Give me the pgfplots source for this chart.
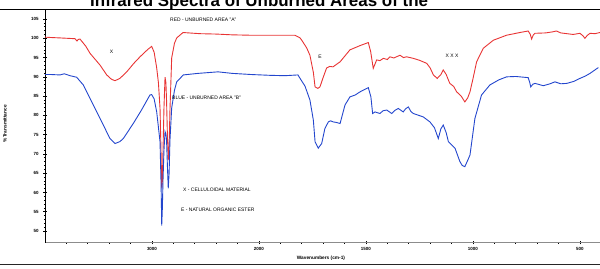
\documentclass[border=0pt]{standalone}
\usepackage{pgfplots}
\pgfplotsset{compat=1.18}
\usepackage{fontspec}
\setmainfont{Liberation Sans}
\definecolor{redline}{RGB}{232,52,52}
\definecolor{blueline}{RGB}{35,70,205}
\begin{document}
\begin{tikzpicture}
\begin{axis}[
  scale only axis, width=555.3bp, height=233.2bp,
  x coord trafo/.code={\pgfmathparse{#1>=2000?(4000-#1)*0.107:214+(2000-#1)*0.214}},
  xmin=4000, xmax=405, ymin=47, ymax=107.5,
  axis x line*=bottom, axis y line*=left,
  x axis line style={draw=black!45},
  y axis line style={draw=black, line width=0.8bp},
  xtick={3000,2000,1500,1000,500},
  xticklabels={3000,2000,1500,1000,500},
  minor xtick={3800,3600,3400,3200,2800,2600,2400,2200,1900,1800,1700,1600,1400,1300,1200,1100,900,800,700,600},
  ytick={50,55,...,105},
  minor y tick num=4,
  tick align=center,
  major tick length=3.5bp, minor tick length=2bp,
  every tick/.style={black, line width=0.7bp},
  tick label style={font=\bfseries\fontsize{4.5}{5}\selectfont},
  /pgf/number format/assume math mode=true,
  xticklabel style={yshift=1bp},
  yticklabel style={xshift=-1bp},
  xlabel={Wavenumbers (cm-1)},
  xlabel style={at={(axis description cs:0.497,0)}, anchor=center, yshift=-15.5bp, font=\bfseries\fontsize{4.8}{5}\selectfont},
  ylabel={\%Transmittance},
  ylabel style={at={(axis description cs:0,0.51)}, anchor=center, yshift=40bp, font=\bfseries\fontsize{4.8}{5}\selectfont},
  clip=false,
]
\addplot[redline, line width=0.9bp] coordinates {
(4000,100.3) (3940,100.2) (3860,100.1) (3790,100.0) (3720,99.9) (3701,99.3) (3690,99.7) (3673,99.8)
(3620,98.0) (3579,96.1) (3530,94.5) (3486,93.06) (3423,90.5) (3380,89.4) (3346,89.0) (3300,89.6)
(3236,91.3) (3170,93.5) (3112,95.2) (3040,97.1) (3003,97.9) (2980,96.4) (2956,92.3) (2940,88.5)
(2925,81.9) (2915,70) (2909,61.1) (2903,63) (2897,71) (2888,82) (2878,89.9) (2870,88.5)
(2864,84) (2856,75) (2848,68.4) (2840,72) (2832,81.4) (2816,94.9) (2790,98.7) (2769,100.1)
(2710,101.5) (2551,101.2) (2400,101.1) (2250,100.9) (2084,100.8) (2000,100.8) (1900,100.8)
(1832,100.8) (1808,100.1) (1800,99.5) (1777,97.5) (1762,95.6) (1746,91.2) (1738,87.4)
(1725,87.0) (1715,87.4) (1701,89.7) (1684,92.3) (1670,92.7) (1654,92.6) (1621,93.9)
(1575,97.0) (1528,98.1) (1489,98.9) (1478,96.5) (1466,92.2) (1450,94.4) (1435,94.2) (1419,94.8)
(1400,94.5) (1388,95.2) (1370,94.9) (1341,95.6) (1325,95.0) (1310,95.2) (1279,94.8) (1250,94.3)
(1216,93.5) (1200,92.3) (1185,90.5) (1167,89.6) (1150,90.6) (1139,91.8) (1125,90.6) (1115,89.2)
(1108,88.3) (1090,87.5) (1076,86.1) (1055,85.0) (1038,83.5) (1025,84.5) (1014,86.1) (1000,89.5)
(983,93.9) (952,97.4) (905,99.5) (843,100.8) (781,101.5) (742,101.9) (732,101.0) (726,99.8)
(718,100.9) (710,101.3) (660,101.4) (625,101.7) (610,101.9) (590,101.4) (532,101.0) (500,101.3)
(485,100.6) (477,100.0) (465,100.8) (453,101.3) (430,101.2) (407,101.5)
};
\addplot[blueline, line width=0.9bp] coordinates {
(4000,90.6) (3940,90.6) (3860,90.5) (3820,90.8) (3766,90.3) (3704,89.9) (3642,87.9) (3549,82.7)
(3455,77.5) (3393,74.0) (3346,72.7) (3300,73.2) (3268,74.0) (3175,77.9) (3100,81.3) (3019,85.3)
(3003,85.4) (2980,84.3) (2956,80.9) (2925,73.2) (2915,62) (2909,51.4) (2903,56) (2897,63.2)
(2888,71) (2878,75.8) (2870,75.2) (2864,73.6) (2856,67) (2848,61.1) (2840,65) (2832,73.6)
(2816,81.9) (2790,86.5) (2769,88.7) (2707,90.5) (2570,90.9) (2383,91.3) (2250,90.9)
(2068,90.6) (1950,90.4) (1879,90.3) (1818,90.5) (1808,89.6) (1785,87.6) (1762,84.0) (1746,78.8)
(1738,73.2) (1723,71.5) (1707,72.7) (1692,76.6) (1676,78.3) (1665,78.6) (1653,78.3) (1640,78.2)
(1621,77.9) (1598,82.7) (1575,84.8) (1550,85.3) (1528,86.1) (1489,87.2) (1477,84.8) (1469,80.5)
(1458,80.9) (1435,80.5) (1420,81.2) (1403,81.4) (1390,80.9) (1380,80.5) (1365,81.3) (1349,81.8)
(1326,80.9) (1315,81.7) (1302,82.2) (1290,81.0) (1279,80.5) (1232,79.6) (1201,78.3) (1180,76.8)
(1162,74.0) (1150,76.5) (1139,77.5) (1125,75.5) (1115,73.2) (1084,71.5) (1061,68.0) (1050,67.0)
(1038,66.7) (1025,68.3) (1014,69.7) (991,79.2) (960,85.3) (921,87.9) (880,89.2) (843,90.0)
(800,90.1) (781,90.0) (742,89.8) (735,88.6) (730,87.4) (720,88.1) (710,88.3) (690,88.0) (671,87.7)
(640,88.2) (617,88.7) (590,88.2) (562,88.3) (530,88.8) (500,89.6) (475,90.2) (453,90.9) (430,91.8)
(414,92.4)
};
\node[font=\fontsize{5}{5}\selectfont] at (axis cs:3377,96.5) {X};
\node[font=\fontsize{5}{5}\selectfont] at (axis cs:1715,95.2) {E};
\node[font=\fontsize{5}{5}\selectfont] at (axis cs:1098,95.4) {X X X};
\node[anchor=west, inner sep=0, font=\fontsize{5}{5}\selectfont] at (axis cs:2832,104.7) {RED - UNBURNED AREA "A"};
\node[anchor=west, inner sep=0, font=\fontsize{5}{5}\selectfont] at (axis cs:2813,84.6) {BLUE - UNBURNED AREA "B"};
\node[anchor=west, inner sep=0, font=\fontsize{5}{5}\selectfont] at (axis cs:2710,60.7) {X - CELLULOIDAL MATERIAL};
\node[anchor=west, inner sep=0, font=\fontsize{5}{5}\selectfont] at (axis cs:2729,55.4) {E - NATURAL ORGANIC ESTER};
\coordinate (bl) at (rel axis cs:0,0);
\end{axis}
\node[anchor=base west,font=\bfseries\fontsize{17}{17}\selectfont,inner sep=0] at ([xshift=45bp,yshift=236.1bp]bl) {Infrared Spectra of Unburned Areas of the};
\draw[line width=1.6bp] ([xshift=-45bp,yshift=233.2bp]bl) -- ([xshift=555bp,yshift=233.2bp]bl);
\draw[line width=1.6bp, black!85] ([xshift=-45bp,yshift=-21.9bp]bl) -- ([xshift=555bp,yshift=-21.9bp]bl);
\pgfresetboundingbox
\useasboundingbox ([xshift=-45bp,yshift=-26.4bp]bl) rectangle ([xshift=555bp,yshift=242.6bp]bl);
\end{tikzpicture}
\end{document}
